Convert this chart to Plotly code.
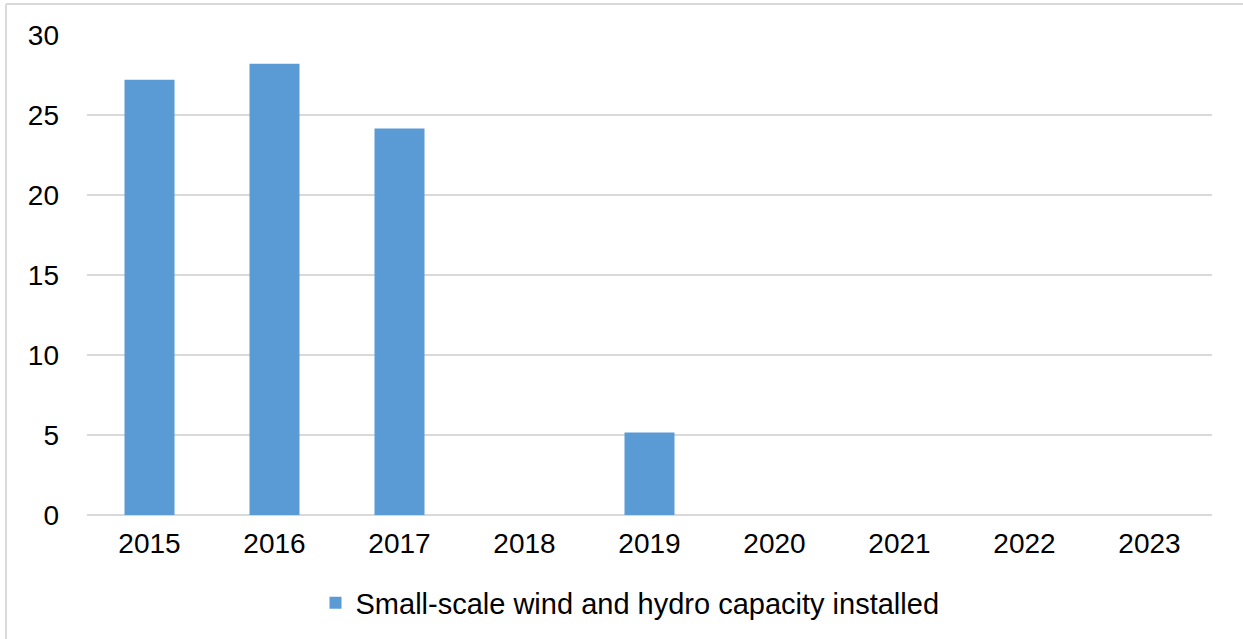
import plotly.graph_objects as go

years = ["2015", "2016", "2017", "2018", "2019", "2020", "2021", "2022", "2023"]
capacity = [27.2, 28.2, 24.15, 0, 5.15, 0, 0, 0, 0]
series_name = "Small-scale wind and hydro capacity installed"
tick_vals = [0, 5, 10, 15, 20, 25, 30]

W, H = 1243, 639
L, R, T, B = 87, 31, 35, 124
pw, ph = W - L - R, H - T - B

def px_x(px):
    return (px - L) / pw

def px_y(py):
    return (H - B - py) / ph

font_family = "Liberation Sans, Arial, sans-serif"
FS = 28

fig = go.Figure()
fig.add_trace(go.Bar(
    x=years, y=capacity, name=series_name,
    marker=dict(color="#5b9bd5", line=dict(width=0)),
))

fig.update_layout(
    width=W, height=H,
    margin=dict(l=L, r=R, t=T, b=B, autoexpand=False),
    paper_bgcolor="white", plot_bgcolor="white",
    bargap=0.6,
    font=dict(family=font_family, size=FS, color="#000000"),
    showlegend=True,
    legend=dict(
        orientation="h", x=px_x(630), y=px_y(603),
        xanchor="center", yanchor="middle",
        font=dict(size=29, family=font_family, color="#000000"),
        itemwidth=30,
    ),
    xaxis=dict(
        showgrid=False, showline=False, zeroline=False,
        tickfont=dict(size=FS, family=font_family, color="#000000"),
        ticklabelstandoff=9,
    ),
    yaxis=dict(
        range=[0, 30], tickvals=tick_vals,
        showgrid=True, gridcolor="#d9d9d9", gridwidth=2,
        zeroline=True, zerolinecolor="#d9d9d9", zerolinewidth=2,
        showline=False,
        tickfont=dict(size=FS, family=font_family, color="#000000"),
        ticklabelstandoff=27,
    ),
    shapes=[
        dict(type="line", xref="paper", yref="paper",
             x0=px_x(6), x1=px_x(6), y0=px_y(4), y1=px_y(700),
             line=dict(color="#d9d9d9", width=2)),
        dict(type="line", xref="paper", yref="paper",
             x0=px_x(6), x1=px_x(1300), y0=px_y(4), y1=px_y(4),
             line=dict(color="#d9d9d9", width=2)),
    ],
)

fig.write_html("out.html")
